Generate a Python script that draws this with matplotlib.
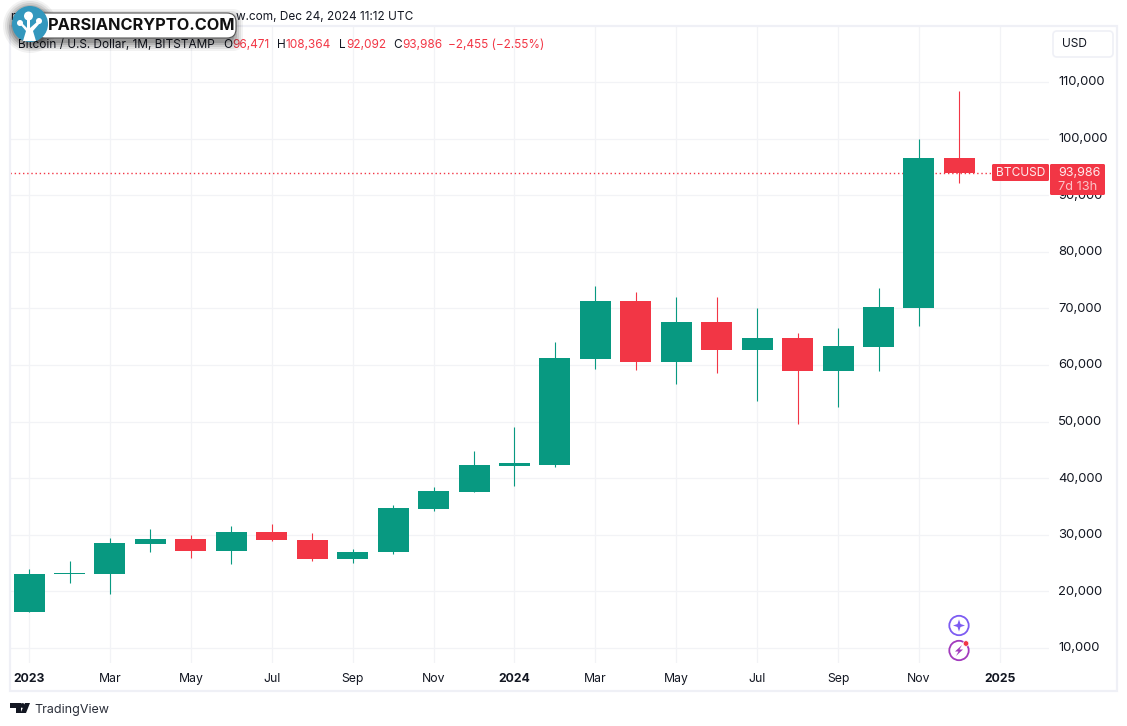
import matplotlib
matplotlib.use("Agg")
from matplotlib import pyplot as plt
from matplotlib.patches import Circle, FancyBboxPatch, Polygon, Rectangle
from matplotlib.transforms import ScaledTranslation

plt.rcParams["font.family"] = ["Inter", "DejaVu Sans"]

# monthly candles, Jan 2023 - Dec 2024 (in USD)
opens = [16340, 23060, 23060, 28360, 29240, 27120, 30480, 29060, 25710, 26940, 34540, 37540,
         42140, 42310, 61040, 71290, 60510, 67580, 62630, 64750, 58920, 63160, 70050, 96471]
highs = [23940, 25350, 29420, 31010, 29950, 31540, 31890, 30300, 27470, 35250, 38430, 44790,
         49030, 64050, 73940, 72880, 72000, 72000, 70050, 65640, 66520, 73590, 99910, 108364]
lows = [16340, 21470, 19520, 26940, 25880, 24820, 28890, 25350, 25000, 26590, 34190, 37540,
        38600, 41960, 59280, 59100, 56630, 58570, 53620, 49560, 52540, 58920, 66870, 92092]
closes = [23060, 23230, 28530, 29240, 27120, 30480, 29060, 25710, 26940, 34720, 37720, 42310,
          42670, 61220, 71290, 60510, 67580, 62630, 64750, 58920, 63340, 70230, 96560, 93986]

price_ticks = [10000, 20000, 30000, 40000, 50000, 60000, 70000, 80000, 90000, 100000, 110000]
month_ticks = [0, 2, 4, 6, 8, 10, 12, 14, 16, 18, 20, 22, 24]
month_labels = ["2023", "Mar", "May", "Jul", "Sep", "Nov", "2024", "Mar", "May", "Jul", "Sep", "Nov", "2025"]
last_price = 93986

GREEN = "#089981"
RED = "#f23645"
DARK = "#131722"
GRID = "#f2f3f6"
FRAME = "#eff0f6"
W, H = 1127, 726

fig = plt.figure(figsize=(W / 100, H / 100), dpi=100, facecolor="white")

# ======================
# candles
# ======================
ax = fig.add_axes([10 / W, 1 - 663 / H, (1049 - 10) / W, (663 - 27) / H])
ax.set_xlim(-0.472, 25.215)
ax.set_ylim(7332, 119700)
for s in ax.spines.values():
    s.set_visible(False)

for i in range(len(opens)):
    color = GREEN if closes[i] >= opens[i] else RED
    ax.vlines(i, lows[i], highs[i], color=color, lw=0.8, zorder=3)
    ax.bar(i, abs(closes[i] - opens[i]), width=0.766, bottom=min(opens[i], closes[i]), color=color, zorder=4)

ax.axhline(last_price, color=RED, lw=1.0, ls=(0, (1, 2)), zorder=2)

ax.set_yticks(price_ticks)
ax.set_yticklabels([f"{p:,}" for p in price_ticks], fontsize=9.4, color=DARK)
ax.yaxis.tick_right()
ax.set_xticks(month_ticks)
ax.set_xticklabels(month_labels, fontsize=8.8, color=DARK)
for lab in ax.get_xticklabels():
    if lab.get_text().isdigit():
        lab.set_fontweight("bold")
ax.tick_params(axis="y", length=0, pad=6.5)
ax.tick_params(axis="x", length=0, pad=7)
# price labels sit a bit above their grid lines (tick_params resets the transform, so do it after)
shift_up = ScaledTranslation(0, 1.0 / 100, fig.dpi_scale_trans)
for tick in ax.yaxis.get_major_ticks():
    tick.label2.set_transform(tick.label2.get_transform() + shift_up)
ax.grid(color=GRID, lw=0.9)
ax.set_axisbelow(True)

# ======================
# overlay in pixel coordinates
# ======================
top = fig.add_axes([0, 0, 1, 1], facecolor="none")
top.set_xlim(0, W)
top.set_ylim(H, 0)
top.axis("off")

# frame around the pane
top.add_patch(Rectangle((10, 26), 1107, 665, fill=False, ec=FRAME, lw=1.6))

# header
top.text(10, 17, "m", fontsize=8.5, color=DARK, va="center")
top.text(236, 17, "w.com, Dec 24, 2024 11:12 UTC", fontsize=8.5, color=DARK, va="center", zorder=1)
header = [(18, "Bitcoin / U.S. Dollar, 1M, BITSTAMP", DARK), (223, "O", DARK), (232, "96,471", RED),
          (277, "H", DARK), (286, "108,364", RED), (339, "L", DARK), (346, "92,092", RED),
          (393, "C", DARK), (402, "93,986", RED), (448, "\u22122,455 (\u22122.55%)", RED)]
for x, s, c in header:
    top.text(x, 44.5, s, fontsize=8.5, color=c, va="center", zorder=1)

# watermark logo with soft shadow
for grow, alpha in [(9, 0.05), (7, 0.07), (5, 0.09), (3, 0.12), (1, 0.15)]:
    top.add_patch(FancyBboxPatch((36 - grow, 15 - grow + 3), 198 + 2 * grow, 24 + 2 * grow,
                                 boxstyle="round,pad=0,rounding_size=10", fc="black", ec="none",
                                 alpha=alpha, zorder=5))
    top.add_patch(Circle((30, 26), 18 + grow, fc="black", ec="none", alpha=alpha, zorder=5))
top.add_patch(FancyBboxPatch((36, 13), 200, 25, boxstyle="round,pad=0,rounding_size=9",
                             fc="white", ec="#555555", lw=0.8, zorder=6))
top.add_patch(Circle((30, 24), 18, fc="#3397bd", ec="none", zorder=7))
for cx, cy, r in [(28.5, 16, 4.5), (20, 23, 3), (39, 21, 3)]:
    top.add_patch(Circle((cx, cy), r, fc="white", ec="none", zorder=8))
top.add_patch(Polygon([(23, 41), (26, 31), (20, 24), (22, 23), (27, 28), (27, 18), (30, 18), (30, 28),
                       (38, 21), (40, 23), (33, 31), (36, 41)], fc="white", ec="none", zorder=8))
top.text(48, 26, "PARSIANCRYPTO.COM", fontsize=11.75, fontweight="bold", color="#111111",
         va="center", zorder=9)

# USD button
top.add_patch(FancyBboxPatch((1053, 31), 60, 26, boxstyle="round,pad=0,rounding_size=4",
                             fc="white", ec=FRAME, lw=1.2))
top.text(1062, 44, "USD", fontsize=8.6, color=DARK, va="center")

# last price labels
top.add_patch(FancyBboxPatch((992, 164), 57, 17, boxstyle="round,pad=0,rounding_size=1.5", fc=RED, ec="none"))
top.add_patch(FancyBboxPatch((1050, 164), 55, 31, boxstyle="round,pad=0,rounding_size=1.5", fc=RED, ec="none"))
top.text(1020.5, 173.5, "BTCUSD", fontsize=8.6, color="white", va="center", ha="center", alpha=0.9)
top.text(1058, 173, f"{last_price:,}", fontsize=9.0, color="white", va="center", alpha=0.9)
top.text(1058, 186.5, "7d 13h", fontsize=9.2, color="white", va="center", alpha=0.7)

# round icons near the bottom
top.add_patch(Circle((959, 625.5), 9.7, fc="white", ec="#7d5cf2", lw=1.3, zorder=6))
top.add_patch(Polygon([(959, 619.5), (960.5, 624), (965, 625.5), (960.5, 627), (959, 631.5),
                       (957.5, 627), (953, 625.5), (957.5, 624)], fc="#7d5cf2", ec="none", zorder=7))
top.add_patch(Circle((959, 650.5), 9.7, fc="white", ec="#a23bbd", lw=1.3, zorder=6))
top.add_patch(Polygon([(962, 645), (955, 651.5), (958.5, 651.5), (956, 656), (963, 649.5), (959.5, 649.5)],
                      fc="#a23bbd", ec="none", zorder=7))
top.add_patch(Circle((966, 643.5), 2.8, fc=RED, ec="white", lw=0.5, zorder=8))

# TradingView logo
top.add_patch(Polygon([(10, 703), (21, 703), (21, 713), (16, 713), (16, 708), (10, 708)], fc=DARK, ec="none"))
top.add_patch(Circle((22.5, 705.5), 2.4, fc=DARK, ec="none"))
top.add_patch(Polygon([(25, 703), (30, 703), (26, 713), (20.5, 713)], fc=DARK, ec="none"))
top.text(34, 709.5, "TradingView", fontsize=9.0, color="#2a2e39", va="center")

fig.savefig("out.png", dpi=100)
